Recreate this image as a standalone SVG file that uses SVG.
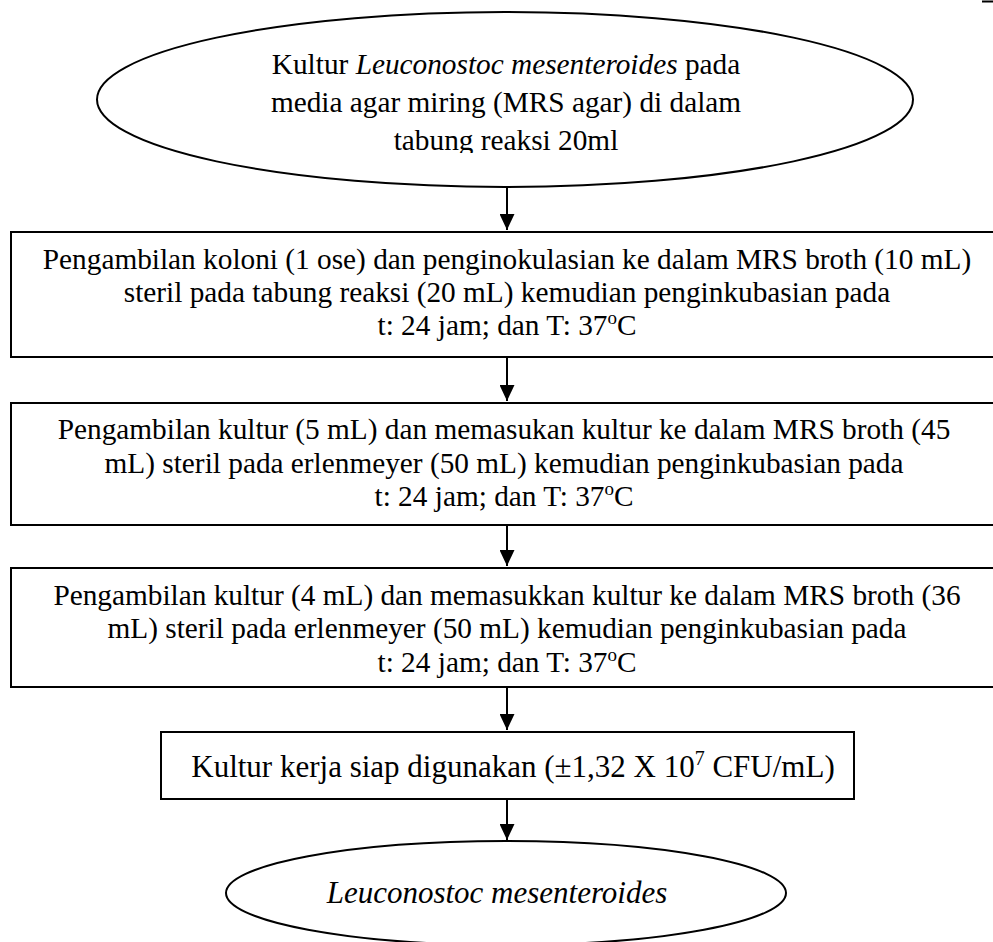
<svg xmlns="http://www.w3.org/2000/svg" width="993" height="942" viewBox="0 0 993 942">
<style>
.shape{fill:#fff;stroke:#000;stroke-width:2}
.t{font-family:"Liberation Serif","Times New Roman",serif;font-size:29.3px;fill:#000;text-anchor:middle}
.i{font-style:italic}
.conn{stroke:#000;stroke-width:2;fill:none}
</style>
<defs>
<marker id="ah" markerUnits="userSpaceOnUse" markerWidth="16" markerHeight="15" refX="16" refY="7.5" orient="auto" viewBox="0 0 16 15">
<path d="M0,0 L16,7.5 L0,15 z" fill="#000"/>
</marker>
<clipPath id="clipTop"><rect x="0" y="0" width="993" height="153"/></clipPath>
</defs>
<rect x="0" y="0" width="993" height="942" fill="#fff"/>
<line x1="982" y1="1.5" x2="993" y2="1.5" stroke="#000" stroke-width="2"/>
<g id="start">
<ellipse class="shape" cx="505" cy="99.5" rx="408" ry="87.5"/>
<g clip-path="url(#clipTop)">
<text class="t" x="506" y="74">Kultur <tspan class="i">Leuconostoc mesenteroides</tspan> pada</text>
<text class="t" x="506" y="112">media agar miring (MRS agar) di dalam</text>
<text class="t" x="506" y="150">tabung reaksi 20ml</text>
</g>
</g>
<g id="step1">
<rect class="shape" x="11" y="232" width="1000" height="125"/>
<text class="t" x="507" y="269">Pengambilan koloni (1 ose) dan penginokulasian ke dalam MRS broth (10 mL)</text>
<text class="t" x="507" y="302">steril pada tabung reaksi (20 mL) kemudian penginkubasian pada</text>
<text class="t" x="507" y="335">t: 24 jam; dan T: 37<tspan font-size="19" dy="-11">o</tspan><tspan dy="11">C</tspan></text>
</g>
<g id="step2">
<rect class="shape" x="11" y="403" width="1000" height="122"/>
<text class="t" x="504" y="439">Pengambilan kultur (5 mL) dan memasukan kultur ke dalam MRS broth (45</text>
<text class="t" x="504" y="473">mL) steril pada erlenmeyer (50 mL) kemudian penginkubasian pada</text>
<text class="t" x="504" y="506">t: 24 jam; dan T: 37<tspan font-size="19" dy="-11">o</tspan><tspan dy="11">C</tspan></text>
</g>
<g id="step3">
<rect class="shape" x="11" y="568" width="1000" height="119"/>
<text class="t" x="507" y="605">Pengambilan kultur (4 mL) dan memasukkan kultur ke dalam MRS broth (36</text>
<text class="t" x="507" y="638">mL) steril pada erlenmeyer (50 mL) kemudian penginkubasian pada</text>
<text class="t" x="507" y="672">t: 24 jam; dan T: 37<tspan font-size="19" dy="-11">o</tspan><tspan dy="11">C</tspan></text>
</g>
<g id="step4">
<rect class="shape" x="161" y="732" width="693" height="67"/>
<text class="t" x="513" y="777" style="font-size:31px">Kultur kerja siap digunakan (±1,32 X 10<tspan font-size="20" dy="-12">7</tspan><tspan dy="12"> CFU/mL)</tspan></text>
</g>
<g id="end">
<ellipse class="shape" cx="506" cy="893" rx="280" ry="52"/>
<text class="t i" x="497" y="903" style="font-size:31px">Leuconostoc mesenteroides</text>
</g>
<g id="connectors">
<line class="conn" x1="507" y1="187" x2="507" y2="230" marker-end="url(#ah)"/>
<line class="conn" x1="507" y1="357" x2="507" y2="401" marker-end="url(#ah)"/>
<line class="conn" x1="507" y1="525" x2="507" y2="566" marker-end="url(#ah)"/>
<line class="conn" x1="507" y1="687" x2="507" y2="730" marker-end="url(#ah)"/>
<line class="conn" x1="507" y1="799" x2="507" y2="840" marker-end="url(#ah)"/>
</g>
</svg>
